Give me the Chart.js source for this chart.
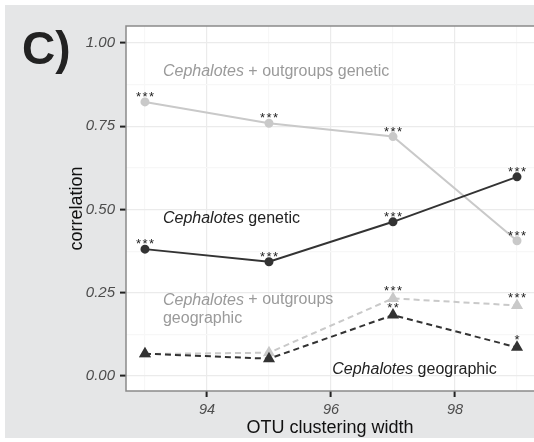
<!DOCTYPE html>
<html>
<head>
<meta charset="utf-8">
<script src="https://cdn.jsdelivr.net/npm/chart.js@4"></script>
<style>
  body { margin: 0; background: #ffffff; }
  canvas { display: block; }
</style>
</head>
<body>
<canvas id="myChart" width="534" height="442"></canvas>
<script>
// OTU clustering widths (x) and correlations
var clusterWidths = [93, 95, 97, 99];
var outgroupsGenetic = [0.823, 0.759, 0.719, 0.406];
var cephalotesGenetic = [0.381, 0.343, 0.463, 0.598];
var outgroupsGeographic = [0.066, 0.070, 0.233, 0.212];
var cephalotesGeographic = [0.067, 0.052, 0.183, 0.086];

// significance stars above each point
var starsOutgroupsGenetic = ["***", "***", "***", "***"];
var starsCephalotesGenetic = ["***", "***", "***", "***"];
var starsOutgroupsGeographic = ["", "", "***", "***"];
var starsCephalotesGeographic = ["", "", "**", "*"];

var xTickValues = [93, 94, 95, 96, 97, 98, 99];
var xTickLabels = [94, 96, 98];
var yTickValues = [0, 0.125, 0.25, 0.375, 0.5, 0.625, 0.75, 0.875, 1];
var yTickLabels = [0, 0.25, 0.5, 0.75, 1];

var FONT = "'Liberation Sans', Arial, Helvetica, sans-serif";
var LIGHT = "#c9c9c9";
var DARK = "#333333";

const toPoints = (arr) => clusterWidths.map((x, i) => ({ x: x, y: arr[i] }));

// annotation text: [italic part, normal part, x, y, colour]
var labels = [
  ["Cephalotes", " + outgroups genetic", 93.29, 0.913, "#9a9a9a"],
  ["Cephalotes", " genetic", 93.29, 0.474, "#222222"],
  ["Cephalotes", " + outgroups", 93.29, 0.228, "#9a9a9a"],
  ["", "geographic", 93.29, 0.171, "#9a9a9a"],
  ["Cephalotes", " geographic", 96.02, 0.018, "#222222"],
];

const panelPlugin = {
  id: "panel",
  beforeDraw: function (chart) {
    var ctx = chart.ctx;
    var a = chart.chartArea;
    ctx.save();
    ctx.fillStyle = "#ffffff";
    ctx.fillRect(0, 0, chart.width, chart.height);
    ctx.fillStyle = "#e5e6e7";
    ctx.fillRect(5, 5, chart.width - 5, 433);
    ctx.fillStyle = "#ffffff";
    ctx.fillRect(a.left, a.top, a.right - a.left, a.bottom - a.top);
    ctx.restore();
  },
  beforeDatasetsDraw: function (chart) {
    var ctx = chart.ctx;
    var a = chart.chartArea;
    ctx.save();
    ctx.strokeStyle = "#8a8a8a";
    ctx.lineWidth = 1.5;
    ctx.beginPath();
    ctx.moveTo(a.right, a.top);
    ctx.lineTo(a.left, a.top);
    ctx.lineTo(a.left, a.bottom);
    ctx.lineTo(a.right, a.bottom);
    ctx.stroke();
    ctx.restore();
  },
  afterDatasetsDraw: function (chart) {
    var ctx = chart.ctx;
    var xs = chart.scales.x;
    var ys = chart.scales.y;
    ctx.save();

    // stars, a bit higher over the triangles
    var starSets = [
      starsOutgroupsGenetic,
      starsCephalotesGenetic,
      starsOutgroupsGeographic,
      starsCephalotesGeographic,
    ];
    ctx.fillStyle = "#222222";
    ctx.font = "13px " + FONT;
    ctx.letterSpacing = "1.5px";
    ctx.textAlign = "center";
    ctx.textBaseline = "alphabetic";
    starSets.forEach(function (stars, d) {
      var meta = chart.getDatasetMeta(d);
      var lift = d >= 2 ? 3 : 1;
      meta.data.forEach(function (pt, i) {
        if (stars[i]) ctx.fillText(stars[i], pt.x + 0.75, pt.y - lift);
      });
    });
    ctx.letterSpacing = "0px";

    // line labels
    ctx.textAlign = "left";
    ctx.textBaseline = "middle";
    labels.forEach(function (l) {
      var px = xs.getPixelForValue(l[2]);
      var py = ys.getPixelForValue(l[3]);
      ctx.fillStyle = l[4];
      ctx.font = "italic 16px " + FONT;
      ctx.fillText(l[0], px, py);
      var w = ctx.measureText(l[0]).width;
      ctx.font = "16px " + FONT;
      ctx.fillText(l[1], px + w, py);
    });
    ctx.restore();
  },
  afterDraw: function (chart) {
    var ctx = chart.ctx;
    var a = chart.chartArea;
    ctx.save();
    ctx.fillStyle = "#222222";
    ctx.font = "bold 46px " + FONT;
    ctx.textAlign = "left";
    ctx.textBaseline = "alphabetic";
    ctx.fillText("C)", 22, 64);

    ctx.fillStyle = "#111111";
    ctx.font = "18px " + FONT;
    ctx.textAlign = "center";
    ctx.fillText("OTU clustering width", (a.left + a.right) / 2, 433);

    ctx.translate(82, (a.top + a.bottom) / 2);
    ctx.rotate(-Math.PI / 2);
    ctx.fillText("correlation", 0, 0);
    ctx.restore();
  },
};

var ctx = document.getElementById("myChart").getContext("2d");

let chart = new Chart(ctx, {
  type: "line",
  data: {
    datasets: [
      {
        data: toPoints(outgroupsGenetic),
        borderColor: LIGHT,
        backgroundColor: LIGHT,
        borderWidth: 2,
        pointRadius: 3.5,
        pointStyle: "circle",
        order: 3,
      },
      {
        data: toPoints(cephalotesGenetic),
        borderColor: DARK,
        backgroundColor: DARK,
        borderWidth: 2,
        pointRadius: 3.5,
        pointStyle: "circle",
        order: 2,
      },
      {
        data: toPoints(outgroupsGeographic),
        borderColor: LIGHT,
        backgroundColor: LIGHT,
        borderWidth: 2,
        borderDash: [6, 4],
        pointRadius: 5,
        pointStyle: "triangle",
        order: 1,
      },
      {
        data: toPoints(cephalotesGeographic),
        borderColor: DARK,
        backgroundColor: DARK,
        borderWidth: 2,
        borderDash: [6, 4],
        pointRadius: 5,
        pointStyle: "triangle",
        order: 0,
      },
    ],
  },
  options: {
    responsive: false,
    animation: false,
    layout: { autoPadding: false, padding: { top: 26, right: 0, left: 0, bottom: 0 } },
    plugins: { legend: { display: false }, tooltip: { enabled: false } },
    elements: { line: { tension: 0 }, point: { borderWidth: 1 } },
    scales: {
      x: {
        type: "linear",
        min: 92.694,
        max: 99.274,
        afterBuildTicks: function (scale) {
          scale.ticks = xTickValues.map((v) => ({ value: v }));
        },
        afterFit: function (scale) {
          scale.height = 51;
          scale.paddingLeft = 0;
          scale.paddingRight = 0;
        },
        border: { display: false },
        grid: {
          color: (c) => (c.tick && xTickLabels.includes(c.tick.value) ? "#ebebeb" : "#f7f7f7"),
          tickColor: (c) => (c.tick && xTickLabels.includes(c.tick.value) ? "#222222" : "rgba(0,0,0,0)"),
          tickLength: 6,
          tickWidth: 2,
          lineWidth: 1.2,
        },
        ticks: {
          autoSkip: false,
          maxRotation: 0,
          padding: 4,
          color: "#4d4d4d",
          font: { family: FONT, size: 14.5, style: "italic" },
          callback: (v) => (xTickLabels.includes(v) ? String(v) : ""),
        },
      },
      y: {
        type: "linear",
        min: -0.045,
        max: 1.051,
        afterBuildTicks: function (scale) {
          scale.ticks = yTickValues.map((v) => ({ value: v }));
        },
        afterFit: function (scale) {
          scale.width = 126;
          scale.paddingTop = 0;
          scale.paddingBottom = 0;
        },
        border: { display: false },
        grid: {
          color: (c) => (c.tick && yTickLabels.includes(c.tick.value) ? "#ebebeb" : "#f7f7f7"),
          tickColor: (c) => (c.tick && yTickLabels.includes(c.tick.value) ? "#222222" : "rgba(0,0,0,0)"),
          tickLength: 6,
          tickWidth: 2,
          lineWidth: 1.2,
        },
        ticks: {
          autoSkip: false,
          padding: 5,
          color: "#4d4d4d",
          font: { family: FONT, size: 15, style: "italic" },
          callback: (v) => (yTickLabels.includes(v) ? v.toFixed(2) : ""),
        },
      },
    },
  },
  plugins: [panelPlugin],
});
</script>
</body>
</html>
